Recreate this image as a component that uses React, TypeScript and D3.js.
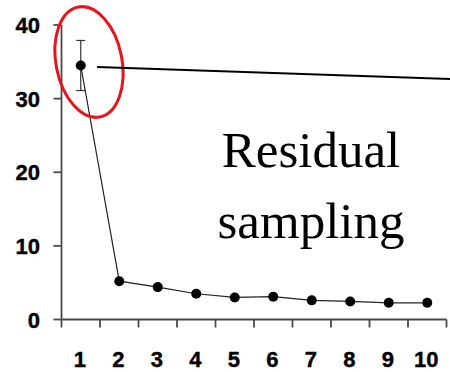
import * as d3 from "d3";

// ── Data ──────────────────────────────────────────────────
const categories = ["1", "2", "3", "4", "5", "6", "7", "8", "9", "10"];
const values = [34.5, 5.2, 4.4, 3.5, 3.0, 3.1, 2.6, 2.45, 2.27, 2.27];
const errors = [3.4, 0, 0, 0, 0, 0, 0, 0, 0, 0];
const yTicks = [0, 10, 20, 30, 40];
const labelLines = ["Residual", "sampling"];

// ── Layout ────────────────────────────────────────────────
const VW = 450;
const VH = 372;
const axisX = 61.5;
const axisY = 319.5;
const plotRight = 446.5;
const plotTop = 25;

const x = d3.scaleBand<string>().domain(categories).range([axisX, plotRight]);
const y = d3.scaleLinear().domain([0, 40]).range([axisY, plotTop]);

const line = d3
  .line<number>()
  .x((_, i) => x(categories[i])! + x.bandwidth() / 2)
  .y((d) => y(d));

const AXIS = "#4a4a4a";
const tickFont = "'Liberation Sans', Arial, sans-serif";

export default function App() {
  const edges = categories.map((c) => x(c)!).concat([plotRight]);
  const cx = (i: number) => x(categories[i])! + x.bandwidth() / 2;

  return (
    <svg
      width={VW}
      height={VH}
      viewBox={`0 0 ${VW} ${VH}`}
      style={{ position: "absolute", left: 0, top: 0, background: "#fff" }}
    >
      {/* ── Y axis ── */}
      <line x1={axisX} x2={axisX} y1={y(40)} y2={axisY} stroke={AXIS} strokeWidth={1.8} />
      {yTicks.map((t) => (
        <g key={t}>
          <line x1={axisX - 8} x2={axisX} y1={y(t)} y2={y(t)} stroke={AXIS} strokeWidth={1.8} />
          <text
            x={40}
            y={y(t) + 8}
            textAnchor="end"
            fontSize={22}
            fontWeight={700}
            fontFamily={tickFont}
            fill="#000"
            stroke="#000"
            strokeWidth={0.4}
          >
            {t}
          </text>
        </g>
      ))}

      {/* ── X axis ── */}
      <line x1={axisX} x2={plotRight} y1={axisY} y2={axisY} stroke={AXIS} strokeWidth={1.8} />
      {edges.map((e, i) => (
        <line key={i} x1={e} x2={e} y1={axisY} y2={axisY + 8} stroke={AXIS} strokeWidth={1.8} />
      ))}
      {categories.map((c, i) => (
        <text
          key={c}
          x={cx(i) - 1}
          y={367}
          textAnchor="middle"
          fontSize={22}
          fontWeight={700}
          fontFamily={tickFont}
          fill="#000"
          stroke="#000"
          strokeWidth={0.4}
        >
          {c}
        </text>
      ))}

      {/* ── Series ── */}
      <path d={line(values)!} fill="none" stroke="#222" strokeWidth={1.2} />
      {values.map((v, i) =>
        errors[i] > 0 ? (
          <g key={"e" + i} stroke="#333" strokeWidth={1.2}>
            <line x1={cx(i)} x2={cx(i)} y1={y(v + errors[i])} y2={y(v - errors[i])} />
            <line x1={cx(i) - 4.5} x2={cx(i) + 4.5} y1={y(v + errors[i])} y2={y(v + errors[i])} />
            <line x1={cx(i) - 4.5} x2={cx(i) + 4.5} y1={y(v - errors[i])} y2={y(v - errors[i])} />
          </g>
        ) : null
      )}
      {values.map((v, i) => (
        <circle key={i} cx={cx(i)} cy={y(v)} r={5} fill="#000" />
      ))}

      {/* ── Annotation ── */}
      <ellipse
        cx={89}
        cy={62}
        rx={33}
        ry={56}
        transform="rotate(-11 89 62)"
        fill="none"
        stroke="#e8141b"
        strokeWidth={3}
      />
      <line x1={97} y1={67} x2={450} y2={79} stroke="#000" strokeWidth={1.8} />
      {labelLines.map((t, i) => (
        <text
          key={t}
          x={311}
          y={167 + i * 71}
          textAnchor="middle"
          fontSize={51}
          fontFamily="'Liberation Serif', 'Times New Roman', serif"
          fill="#000"
        >
          {t}
        </text>
      ))}
    </svg>
  );
}
